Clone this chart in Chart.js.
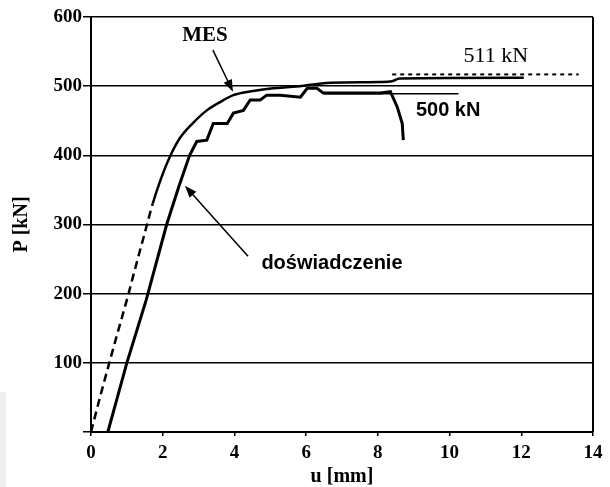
<!DOCTYPE html>
<html>
<head>
<meta charset="utf-8">
<script src="https://cdn.jsdelivr.net/npm/chart.js@4.4.0/dist/chart.umd.min.js"></script>
<style>
  html, body { margin: 0; padding: 0; background: #fff; }
  #wrap { position: relative; width: 610px; height: 487px; }
  #smudge { position: absolute; left: 0; top: 392px; width: 6px; height: 95px; background: #efefef; }
</style>
</head>
<body>
<div id="wrap">
  <div id="smudge"></div>
  <canvas id="chart" width="610" height="487"></canvas>
</div>
<script>
// MES (FEM) curve - first segments dashed, rest solid
var mesU = [0, 0.25, 0.51, 0.75, 1.0, 1.25, 1.5, 1.72, 1.95, 2.2, 2.48, 2.85, 3.23, 3.6, 3.97, 4.52, 5.08, 5.64, 6.68, 8.07, 8.4, 8.6, 12.07];
var mesP = [0, 50, 100, 145, 191, 240, 288, 330, 366, 398, 425, 447, 465, 477, 487, 493, 497, 499, 505, 506, 507, 511, 512];
var mesDashedPoints = 7;

// doświadczenie (experiment)
var expU = [0.47, 1.0, 1.54, 2.11, 2.45, 2.75, 2.95, 3.23, 3.41, 3.8, 3.97, 4.25, 4.44, 4.72, 4.9, 5.28, 5.84, 6.03, 6.3, 6.48, 8.07, 8.35, 8.54, 8.68, 8.71];
var expP = [0, 100, 191, 300, 355, 400, 420, 422, 446, 446, 461, 465, 480, 480, 487, 487, 484, 497, 497, 490, 490, 492, 470, 446, 422];

// reference levels
var ref511U = [8.4, 13.6];
var ref511P = [517, 517];
var ref500U = [6.5, 10.25];
var ref500P = [489, 489];

function pts(u, p) {
  return u.map(function (v, i) { return { x: v, y: p[i] }; });
}

var serif = '"Liberation Serif", "Times New Roman", serif';
var sans = '"Liberation Sans", Arial, sans-serif';

var notes = [
  { text: 'MES', u: 3.18, p: 573, font: 'bold 21px ' + serif },
  { text: '511 kN', u: 11.29, p: 543, font: '22px ' + serif },
  { text: '500 kN', u: 9.96, p: 465, font: 'bold 20px ' + sans },
  { text: 'doświadczenie', u: 6.72, p: 244, font: 'bold 20px ' + sans }
];
var arrows = [
  { u0: 3.4, p0: 552, u1: 3.96, p1: 492 },
  { u0: 4.38, p0: 254, u1: 2.62, p1: 356 }
];

var notesPlugin = {
  id: 'notes',
  afterDatasetsDraw: function (chart) {
    var ctx = chart.ctx, xs = chart.scales.x, ys = chart.scales.y, a = chart.chartArea;
    ctx.save();
    // right frame
    ctx.strokeStyle = '#000';
    ctx.lineWidth = 2;
    ctx.beginPath();
    ctx.moveTo(a.right, a.top);
    ctx.lineTo(a.right, a.bottom);
    ctx.stroke();
    ctx.fillStyle = '#000';
    ctx.textAlign = 'center';
    ctx.textBaseline = 'middle';
    notes.forEach(function (n) {
      ctx.font = n.font;
      ctx.fillText(n.text, xs.getPixelForValue(n.u), ys.getPixelForValue(n.p));
    });
    ctx.lineWidth = 1.5;
    arrows.forEach(function (r) {
      var x0 = xs.getPixelForValue(r.u0), y0 = ys.getPixelForValue(r.p0);
      var x1 = xs.getPixelForValue(r.u1), y1 = ys.getPixelForValue(r.p1);
      var ang = Math.atan2(y1 - y0, x1 - x0);
      ctx.beginPath();
      ctx.moveTo(x0, y0);
      ctx.lineTo(x1 - 8 * Math.cos(ang), y1 - 8 * Math.sin(ang));
      ctx.stroke();
      ctx.beginPath();
      ctx.moveTo(x1, y1);
      ctx.lineTo(x1 - 12 * Math.cos(ang) + 4.5 * Math.sin(ang), y1 - 12 * Math.sin(ang) - 4.5 * Math.cos(ang));
      ctx.lineTo(x1 - 12 * Math.cos(ang) - 4.5 * Math.sin(ang), y1 - 12 * Math.sin(ang) + 4.5 * Math.cos(ang));
      ctx.closePath();
      ctx.fill();
    });
    ctx.restore();
  }
};

var lineBase = { borderColor: '#000', pointRadius: 0, fill: false };

new Chart(document.getElementById('chart').getContext('2d'), {
  type: 'line',
  data: {
    datasets: [
      Object.assign({
        label: 'MES', data: pts(mesU, mesP), borderWidth: 2.5, cubicInterpolationMode: 'monotone',
        segment: { borderDash: function (c) { return c.p1DataIndex <= mesDashedPoints ? [8, 5] : []; } }
      }, lineBase),
      Object.assign({ label: 'doświadczenie', data: pts(expU, expP), borderWidth: 3, tension: 0 }, lineBase),
      Object.assign({ label: '511 kN', data: pts(ref511U, ref511P), borderWidth: 2, borderDash: [4, 4] }, lineBase),
      Object.assign({ label: '500 kN', data: pts(ref500U, ref500P), borderWidth: 1.5 }, lineBase)
    ]
  },
  options: {
    responsive: false,
    animation: false,
    layout: { padding: { top: 17, right: 17, left: 0, bottom: 0 } },
    plugins: { legend: { display: false }, tooltip: { enabled: false } },
    scales: {
      x: {
        type: 'linear', min: 0, max: 14,
        ticks: { stepSize: 2, color: '#000', padding: 6, font: { family: serif, size: 19, weight: 'bold' } },
        grid: { drawOnChartArea: false, tickLength: 4, color: '#000', lineWidth: 1.5 },
        border: { color: '#000', width: 2 },
        title: { display: true, text: 'u [mm]', color: '#000', padding: 0, font: { family: serif, size: 20, weight: 'bold', lineHeight: 1 } },
        afterFit: function (s) { s.height = 55; }
      },
      y: {
        type: 'linear', min: 0, max: 600,
        ticks: { stepSize: 100, color: '#000', padding: 1, font: { family: serif, size: 19, weight: 'bold' },
          callback: function (v) { return v === 0 ? '' : v; } },
        grid: { color: '#000', lineWidth: 1.5, tickLength: 8 },
        border: { color: '#000', width: 2 },
        title: { display: true, text: 'P [kN]', color: '#000', padding: { top: 10, bottom: 0 }, font: { family: serif, size: 20, weight: 'bold' } },
        afterFit: function (s) { s.width = 91; }
      }
    }
  },
  plugins: [notesPlugin]
});
</script>
</body>
</html>
